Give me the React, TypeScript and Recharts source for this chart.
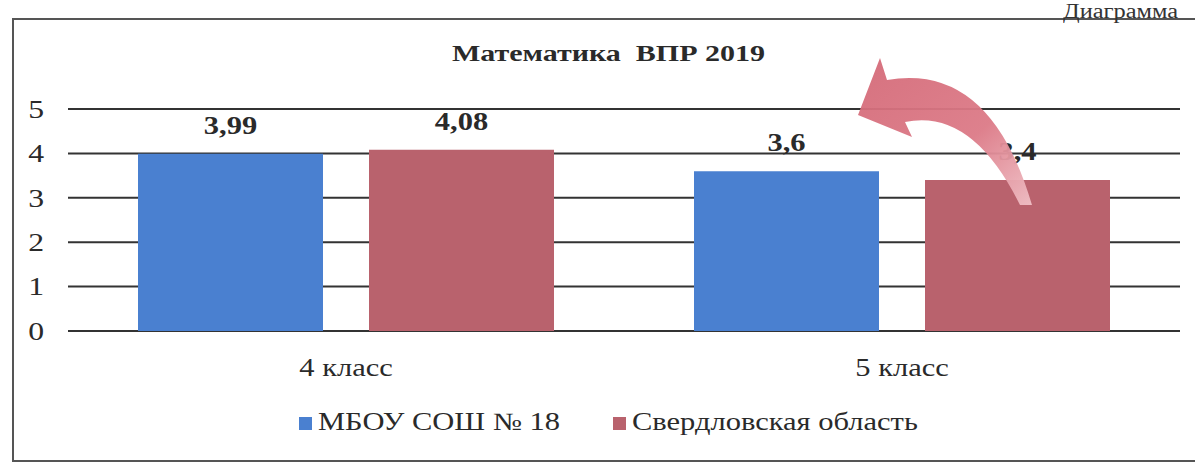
import React from 'react';
import { BarChart, Bar, XAxis, YAxis, CartesianGrid, LabelList } from 'recharts';

const categories = ['4 класс', '5 класс'];
const schoolValues = [3.99, 3.6];
const regionValues = [4.08, 3.4];
const yTicks = [0, 1, 2, 3, 4, 5];
const seriesNames = ['МБОУ СОШ № 18', 'Свердловская область'];
const seriesColors = ['#4a80d0', '#b9626d'];

const data = categories.map((c, i) => ({ name: c, school: schoolValues[i], region: regionValues[i] }));

const serif = 'Liberation Serif, Times New Roman, serif';
const SX = 1.22;
const ink = '#2a2a2a';
const fmt = (v: any) => String(v).replace('.', ',');

const XTick = (props: any) => {
  const { x, y, payload } = props;
  return (
    <g transform={`translate(${x},${y}) scale(${SX},1)`}>
      <text x={0} y={45} textAnchor="middle" fontFamily={serif} fontSize={25} fill={ink}>{payload.value}</text>
    </g>
  );
};

const YTick = (props: any) => {
  const { x, y, payload } = props;
  return (
    <g transform={`translate(${x - 24},${y}) scale(${SX},1)`}>
      <text x={0} y={0} dy="0.34em" textAnchor="end" fontFamily={serif} fontSize={26} fill={ink}>{payload.value}</text>
    </g>
  );
};

const BarLabel = (props: any) => {
  const { x, y, width, value } = props;
  const cx = Number(x) + Number(width) / 2;
  return (
    <g transform={`translate(${cx},${Number(y) - 20}) scale(${SX},1)`}>
      <text x={0} y={0} textAnchor="middle" fontFamily={serif} fontSize={25} fontWeight="bold" fill={ink}>{fmt(value)}</text>
    </g>
  );
};

const legendPos = [
  { sq: 299, tx: 318 },
  { sq: 613, tx: 632 },
];

export default function App() {
  return (
    <div style={{ position: 'absolute', left: 0, top: 0, width: 1195, height: 463, overflow: 'hidden', background: '#fff' }}>
      <div style={{ position: 'absolute', left: 12, top: 18, width: 1200, height: 440, border: '2px solid #555' }} />
      <div style={{ position: 'absolute', left: 1063, top: 0, fontFamily: serif, fontSize: 20, color: '#333', whiteSpace: 'nowrap', transform: `scaleX(${SX})`, transformOrigin: 'left top' }}>Диаграмма</div>
      <div style={{ position: 'absolute', left: 0, top: 40, width: 1217, textAlign: 'center', fontFamily: serif, fontSize: 24, fontWeight: 'bold', color: ink, whiteSpace: 'pre', transform: 'scaleX(1.25)', transformOrigin: '608.5px 0' }}>Математика  ВПР 2019</div>
      <div style={{ position: 'absolute', left: 0, top: 0 }}>
        <BarChart width={1195} height={463} data={data} margin={{ top: 109, right: 15, bottom: 102, left: 0 }} barCategoryGap={70} barGap={46}>
          <CartesianGrid vertical={false} stroke="#333" strokeWidth={2} />
          <XAxis dataKey="name" axisLine={false} tickLine={false} tickSize={0} tickMargin={0} interval={0} tick={<XTick />} />
          <YAxis domain={[0, 5]} ticks={yTicks} interval={0} width={68} axisLine={false} tickLine={false} tickSize={0} tickMargin={0} tick={<YTick />} />
          <Bar dataKey="school" name={seriesNames[0]} fill={seriesColors[0]} isAnimationActive={false}>
            <LabelList dataKey="school" content={<BarLabel />} />
          </Bar>
          <Bar dataKey="region" name={seriesNames[1]} fill={seriesColors[1]} isAnimationActive={false}>
            <LabelList dataKey="region" content={<BarLabel />} />
          </Bar>
        </BarChart>
      </div>
      {seriesNames.map((n, i) => (
        <React.Fragment key={n}>
          <span style={{ position: 'absolute', left: legendPos[i].sq, top: 417, width: 13, height: 13, background: seriesColors[i] }} />
          <span style={{ position: 'absolute', left: legendPos[i].tx, top: 408, fontFamily: serif, fontSize: 25, color: ink, whiteSpace: 'nowrap', transform: `scaleX(${SX})`, transformOrigin: 'left top' }}>{n}</span>
        </React.Fragment>
      ))}
      <svg style={{ position: 'absolute', left: 0, top: 0 }} width={1195} height={463}>
        <defs>
          <linearGradient id="arrowGrad" x1="0" y1="0" x2="1" y2="1">
            <stop offset="0" stopColor="#d46a78" />
            <stop offset="0.6" stopColor="#dc7a87" />
            <stop offset="1" stopColor="#f0c0c6" />
          </linearGradient>
        </defs>
        <path d="M 858 115 L 880 58 L 887 80 Q 990 62 1032 205 L 1020 205 Q 972 108 905 122 L 912 137 Z" fill="url(#arrowGrad)" opacity={0.95} />
      </svg>
    </div>
  );
}
